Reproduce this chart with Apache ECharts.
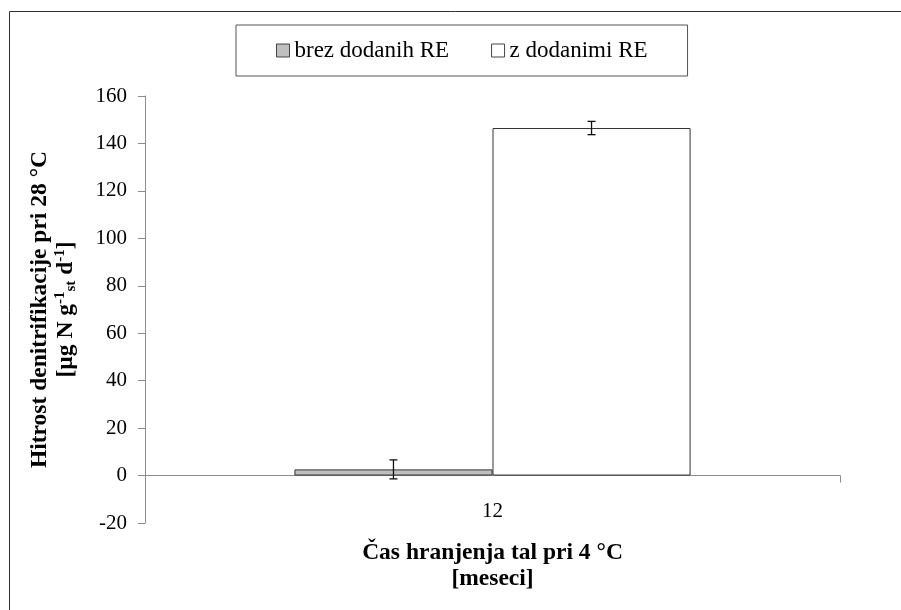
<!DOCTYPE html>
<html>
<head>
<meta charset="utf-8">
<script src="https://cdn.jsdelivr.net/npm/echarts@6/dist/echarts.min.js"></script>
<style>
  html, body { margin: 0; padding: 0; background: #fff; }
  #chart { width: 901px; height: 610px; }
</style>
</head>
<body>
<div id="chart"></div>
<script>
// Storage time categories (months)
var categories = ['12'];
// Denitrification rate at 28 °C, without added RE
var brezValues = [2.6];
var brezErrors = [4.0];
// Denitrification rate at 28 °C, with added RE
var zValues = [146.5];
var zErrors = [2.8];
// Y-axis range
var yMin = -20, yMax = 160, yStep = 20;

var serifFont = '"Liberation Serif", "DejaVu Serif", serif';
var axisGrey = '#8c8c8c';
var categoryGap = 0.43;

var chart = echarts.init(document.getElementById('chart'), null, { renderer: 'canvas' });

// Error bar drawn as an "I" shape centred on one of the two bars of a category
function errorBarRenderer(values, errors, side) {
  return function (params, api) {
    var i = params.dataIndex;
    var catWidth = api.size([1, 0])[0];
    var barW = catWidth * (1 - categoryGap) / 2;
    var centre = api.coord([i, values[i]]);
    var x = centre[0] + side * barW / 2;
    var top = api.coord([i, values[i] + errors[i]])[1];
    var bottom = api.coord([i, values[i] - errors[i]])[1];
    var cap = 4;
    var style = { stroke: '#111', lineWidth: 1.3 };
    return {
      type: 'group',
      children: [
        { type: 'line', shape: { x1: x, y1: top, x2: x, y2: bottom }, style: style },
        { type: 'line', shape: { x1: x - cap, y1: top, x2: x + cap, y2: top }, style: style },
        { type: 'line', shape: { x1: x - cap, y1: bottom, x2: x + cap, y2: bottom }, style: style }
      ]
    };
  };
}

var legendText = { fontFamily: serifFont, fontSize: 23, color: '#000' };

var option = {
  backgroundColor: '#fff',
  animation: false,
  textStyle: { fontFamily: serifFont, color: '#000' },
  graphic: [{
    type: 'rect',
    shape: { x: 9.5, y: 11.5, width: 1000, height: 1000 },
    style: { fill: 'none', stroke: '#333', lineWidth: 1 },
    z: 0
  }],
  legend: {
    left: 236,
    top: 25,
    padding: [14, 40, 14, 40],
    borderColor: '#555',
    borderWidth: 1,
    itemWidth: 13,
    itemHeight: 13,
    itemGap: 42,
    textStyle: legendText,
    data: [
      { name: 'brez dodanih RE', icon: 'rect', textStyle: legendText, itemStyle: { color: '#bfbfbf', borderColor: '#444', borderWidth: 1 } },
      { name: 'z dodanimi RE', icon: 'rect', textStyle: legendText, itemStyle: { color: '#fff', borderColor: '#444', borderWidth: 1 } }
    ]
  },
  grid: { left: 145, right: 61, top: 96, bottom: 87, outerBoundsMode: 'none' },
  xAxis: {
    type: 'category',
    data: categories,
    name: 'Čas hranjenja tal pri 4 °C\n[meseci]',
    nameLocation: 'middle',
    nameGap: 17,
    nameTextStyle: { fontFamily: serifFont, fontSize: 23.5, fontWeight: 'bold', color: '#000', lineHeight: 26 },
    axisLine: { onZero: true, lineStyle: { color: axisGrey, width: 1 } },
    axisTick: { show: true, length: 7, lineStyle: { color: axisGrey } },
    axisLabel: { fontFamily: serifFont, fontSize: 21, color: '#000', margin: -22 },
    splitLine: { show: false }
  },
  yAxis: {
    type: 'value',
    min: yMin,
    max: yMax,
    interval: yStep,
    name: '{t|Hitrost denitrifikacije pri 28 °C}\n{t|[µg N g}{sup|-1}{sub|st}{t| d}{sup|-1}{t|]}',
    nameLocation: 'middle',
    nameGap: 66,
    nameTextStyle: {
      fontFamily: serifFont,
      fontWeight: 'bold',
      color: '#000',
      rich: {
        t: { fontFamily: serifFont, fontSize: 23.5, fontWeight: 'bold', lineHeight: 26, color: '#000' },
        sup: { fontFamily: serifFont, fontSize: 15, fontWeight: 'bold', verticalAlign: 'top', lineHeight: 26, padding: [0, 0, 8, 0], color: '#000' },
        sub: { fontFamily: serifFont, fontSize: 15, fontWeight: 'bold', verticalAlign: 'bottom', lineHeight: 26, padding: [6, 0, 0, 0], color: '#000' }
      }
    },
    axisLine: { show: true, lineStyle: { color: axisGrey, width: 1 } },
    axisTick: { show: true, length: 7, lineStyle: { color: axisGrey } },
    axisLabel: { fontFamily: serifFont, fontSize: 21, color: '#000', margin: 18 },
    splitLine: { show: false }
  },
  series: [
    {
      name: 'brez dodanih RE',
      type: 'bar',
      data: brezValues,
      barGap: '0%',
      barCategoryGap: (categoryGap * 100) + '%',
      itemStyle: { color: '#bfbfbf', borderColor: '#333', borderWidth: 1 }
    },
    {
      name: 'z dodanimi RE',
      type: 'bar',
      data: zValues,
      barGap: '0%',
      barCategoryGap: (categoryGap * 100) + '%',
      itemStyle: { color: '#fff', borderColor: '#333', borderWidth: 1 }
    },
    {
      type: 'custom',
      name: 'err-brez',
      renderItem: errorBarRenderer(brezValues, brezErrors, -1),
      data: brezValues,
      z: 10,
      silent: true
    },
    {
      type: 'custom',
      name: 'err-z',
      renderItem: errorBarRenderer(zValues, zErrors, 1),
      data: zValues,
      z: 10,
      silent: true
    }
  ]
};

chart.setOption(option);
</script>
</body>
</html>
